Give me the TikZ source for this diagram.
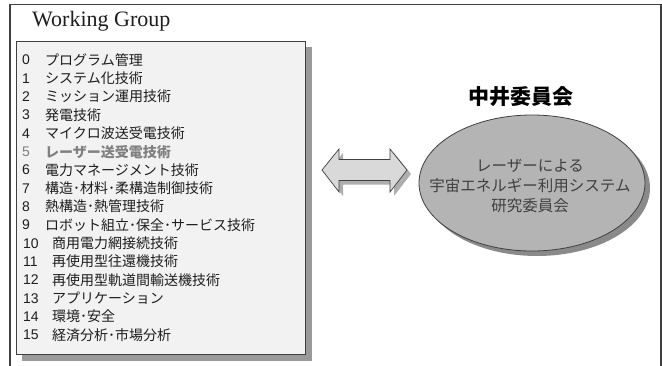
\documentclass[tikz,border=0pt]{standalone}
\usepackage{fontspec}
\setmainfont{Liberation Serif}
\newfontfamily\jp{Noto Sans CJK JP}
\newfontfamily\numf{Liberation Sans}
\usetikzlibrary{shapes.geometric}
\definecolor{framegray}{HTML}{404040}
\definecolor{boxfill}{HTML}{F2F2F2}
\definecolor{shadowgray}{HTML}{9A9A9A}
\definecolor{ellfill}{HTML}{B4B4B4}
\definecolor{ellshadow}{HTML}{8A8A8A}
\definecolor{arrowfill}{HTML}{D9D9D9}
\definecolor{txtdark}{HTML}{1E1E1E}
\definecolor{txtgray}{HTML}{808080}
\tikzset{
  numlabel/.style={anchor=west, inner sep=0pt, font=\numf\fontsize{14}{15}\selectfont, text=txtdark},
  itemlabel/.style={anchor=west, inner sep=0pt, font=\jp\fontsize{14}{15}\selectfont, text=txtdark},
  elltext/.style={align=center, inner sep=0pt, font=\jp\fontsize{15.5}{20}\selectfont, text=txtdark!85}
}
\begin{document}
\begin{tikzpicture}[x=1pt,y=-1pt]
\useasboundingbox (0,0) rectangle (662,365);
% outer frame
\draw[line width=1.3pt, framegray] (10,366) -- (10,4.5) -- (661,4.5) -- (661,366);
\node[anchor=base west, inner sep=0pt, font=\fontsize{22}{24}\selectfont, text=txtdark] (wg) at (32,26) {Working Group};
% list box with shadow
\fill[shadowgray] (22,47) rectangle (312,361);
\node[draw=framegray, fill=boxfill, line width=0.9pt, minimum width=289pt, minimum height=313pt, inner sep=0pt, anchor=north west] (listbox) at (16,41) {};
\foreach \t [count=\k from 0] in {プログラム管理,システム化技術,ミッション運用技術,発電技術,マイクロ波送受電技術,レーザー送受電技術,電力マネージメント技術,構造･材料･柔構造制御技術,熱構造･熱管理技術,ロボット組立･保全･サービス技術,商用電力網接続技術,再使用型往還機技術,再使用型軌道間輸送機技術,アプリケーション,環境･安全,経済分析･市場分析}{
  \pgfmathsetmacro{\yy}{60+18.33*\k}
  \ifnum\k<10 \def\xx{45}\def\nx{22}\else\def\xx{52}\def\nx{23}\fi
  \ifnum\k=5
    \node[numlabel, text=txtgray] (num\k) at (\nx,\yy) {\k};
    \node[itemlabel, text=txtgray, font=\jp\bfseries\fontsize{14}{15}\selectfont] (item\k) at (\xx,\yy) {\t};
  \else
    \node[numlabel] (num\k) at (\nx,\yy) {\k};
    \node[itemlabel] (item\k) at (\xx,\yy) {\t};
  \fi
}
% title
\node[inner sep=0pt, font=\jp\bfseries\fontsize{21}{24}\selectfont, text=black] (title) at (521,97) {中井委員会};
% ellipse with shadow
\fill[ellshadow] (537,188) ellipse [x radius=113, y radius=68];
\node[ellipse, draw=framegray, fill=ellfill, line width=0.8pt, minimum width=226pt, minimum height=136pt, inner sep=0pt] (comm) at (532,183) {};
\node[elltext] (commtxt) at (530,186) {レーザーによる\\宇宙エネルギー利用システム\\研究委員会};
% double block arrow with shadow
\coordinate (aL) at (322,170);
\coordinate (aR) at (407,170);
\fill[shadowgray!80] ([shift={(4,4)}]aL) -- ++(17,-21) -- ++(0,10.5) -- ++(51,0) -- ++(0,-10.5) -- ([shift={(4,4)}]aR) -- ++(-17,22) -- ++(0,-11.5) -- ++(-51,0) -- ++(0,11.5) -- cycle;
\filldraw[fill=arrowfill, draw=framegray, line width=0.7pt] (aL) -- ++(17,-21) -- ++(0,10.5) -- ++(51,0) -- ++(0,-10.5) -- (aR) -- ++(-17,22) -- ++(0,-11.5) -- ++(-51,0) -- ++(0,11.5) -- cycle;
\end{tikzpicture}
\end{document}
